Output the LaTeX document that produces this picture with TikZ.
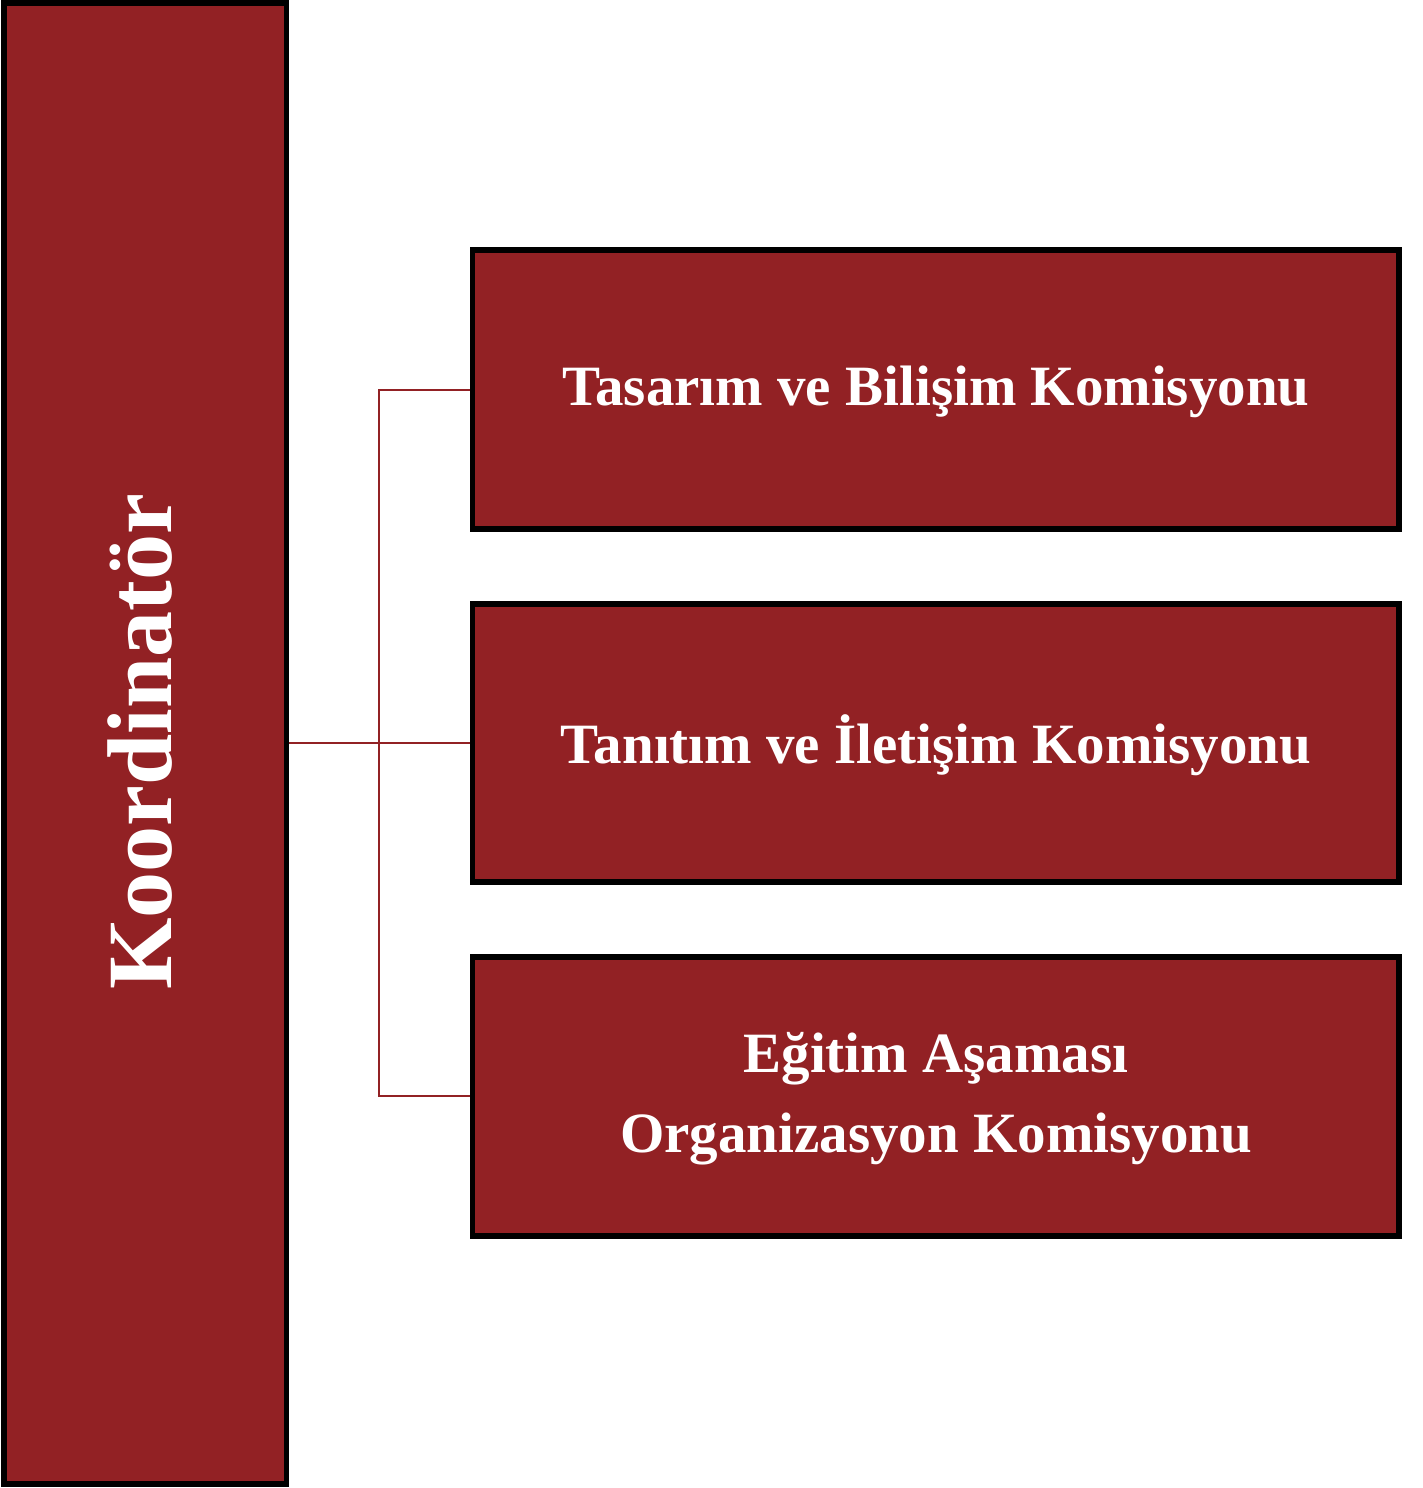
\documentclass[tikz,border=0pt]{standalone}
\usepackage{fontspec}
\setmainfont{Liberation Serif}
\definecolor{boxred}{HTML}{922124}
\begin{document}
\begin{tikzpicture}[x=1pt,y=-1pt,
  redbox/.style={draw=black,line width=5.5pt,fill=boxred,inner sep=0pt},
  lbl/.style={text=white,font=\bfseries\fontsize{57}{80}\selectfont,align=center},
  conn/.style={draw=boxred,line width=2pt}]
\useasboundingbox (0,0) rectangle (1422,1488);
\fill[white] (0,0) rectangle (1422,1488);
\draw[redbox] (4,3) rectangle (286.5,1484);
\draw[redbox] (472.5,250) rectangle (1399,529);
\draw[redbox] (472.5,604) rectangle (1399,882);
\draw[redbox] (472.5,957) rectangle (1399,1236);
\node[lbl,rotate=90,font=\bfseries\fontsize{92}{100}\selectfont] (k) at (140,742) {Koordinatör};
\node[lbl] (a) at (936,392) {Tasarım ve Bilişim Komisyonu};
\node[lbl] (b) at (936,745) {Tanıtım ve İletişim Komisyonu};
\node[lbl] (c) at (936,1099) {Eğitim Aşaması\\Organizasyon Komisyonu};
\coordinate (kr) at (289,743);
\coordinate (ar) at (470,390);
\coordinate (br) at (470,743);
\coordinate (cr) at (470,1096);
\draw[conn] (kr) -- (br);
\draw[conn] (ar) -| (379,743) |- (cr);
\end{tikzpicture}
\end{document}
